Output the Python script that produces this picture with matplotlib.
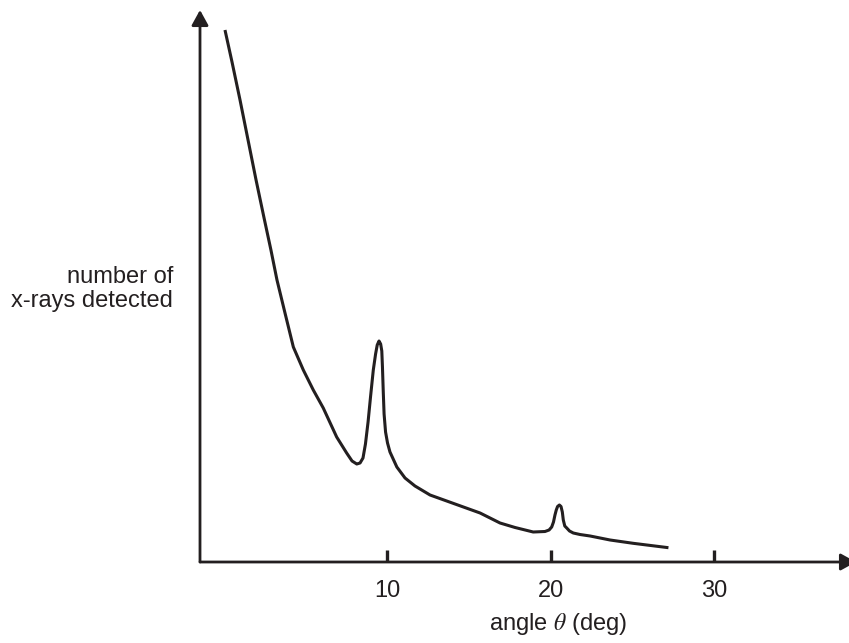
import matplotlib
matplotlib.use("Agg")
import matplotlib.pyplot as plt
from matplotlib.patches import ArrowStyle

plt.rcParams['font.family'] = ['Liberation Sans', 'DejaVu Sans']
plt.rcParams['mathtext.fontset'] = 'stix'

# data (angle in degrees, detected count in arbitrary units)
angle = [0.08, 0.51, 1.00, 1.49, 1.98, 2.47, 2.89, 3.26, 3.75, 4.26,
         4.87, 5.48, 6.09, 6.91, 7.52, 7.85, 8.14, 8.34, 8.52, 8.67,
         8.83, 8.98, 9.15, 9.29, 9.39, 9.50, 9.60, 9.67, 9.71, 9.76,
         9.81, 9.90, 10.02, 10.17, 10.59, 11.09, 11.70, 12.62, 14.15, 15.68,
         16.90, 17.82, 18.93, 19.65, 19.90, 20.06, 20.17, 20.26, 20.34, 20.42,
         20.53, 20.63, 20.71, 20.77, 20.86, 20.98, 21.15, 21.38, 21.79, 22.41,
         23.63, 25.04, 27.20]
counts = [532, 500, 462, 422, 382, 344, 312, 282, 249, 215,
          192, 172, 154, 125, 109, 101, 98, 99, 104, 118,
          140, 165, 192, 208, 217, 221, 218, 211, 195, 170,
          148, 130, 119, 110, 95, 84, 76, 67, 58, 49,
          39, 34.5, 30, 30.5, 32, 35, 40, 47, 52, 55.5,
          57, 55.5, 50, 42, 36, 34, 31, 29, 27.5, 26,
          22, 18.7, 14.3]
xticks = [10, 20, 30]
xtick_labels = ["10", "20", "30"]

ink = '#231f20'
W, H = 849, 643
fig = plt.figure(figsize=(W / 100, H / 100), dpi=100)
ax = fig.add_axes([200 / W, (H - 562) / H, (856 - 200) / W, (562 - 10) / H])

ax.plot(angle, counts, color=ink, lw=2.2, solid_joinstyle='round',
        solid_capstyle='butt', clip_on=False)

ax.set_xlim(-1.448, 38.67)
ax.set_ylim(0, 552)

for s in ax.spines.values():
    s.set_visible(False)

ax.set_yticks([])
ax.set_xticks(xticks)
ax.set_xticklabels(xtick_labels, fontsize=17, color='#231f20')
ax.tick_params(axis='x', direction='in', length=9, width=2.4, color=ink, pad=13)

style = ArrowStyle('-|>', head_length=0.4, head_width=0.22)
ax.annotate('', xy=(0, 1), xytext=(0, 0), xycoords='axes fraction',
            textcoords='axes fraction',
            arrowprops=dict(arrowstyle=style, lw=2.0, color=ink,
                            mutation_scale=23, shrinkA=0, shrinkB=0))
ax.annotate('', xy=(1, 0), xytext=(0, 0), xycoords='axes fraction',
            textcoords='axes fraction',
            arrowprops=dict(arrowstyle=style, lw=2.0, color=ink,
                            mutation_scale=23, shrinkA=0, shrinkB=0))

fig.text(173 / W, (H - 283) / H, "number of", ha='right', va='baseline',
         fontsize=17, color='#231f20')
fig.text(173 / W, (H - 307) / H, "x-rays detected", ha='right', va='baseline',
         fontsize=17, color='#231f20')
fig.text(627 / W, (H - 630) / H, r"angle $\theta$ (deg)", ha='right', va='baseline',
         fontsize=17, color='#231f20')

fig.savefig("out.png", dpi=100)
